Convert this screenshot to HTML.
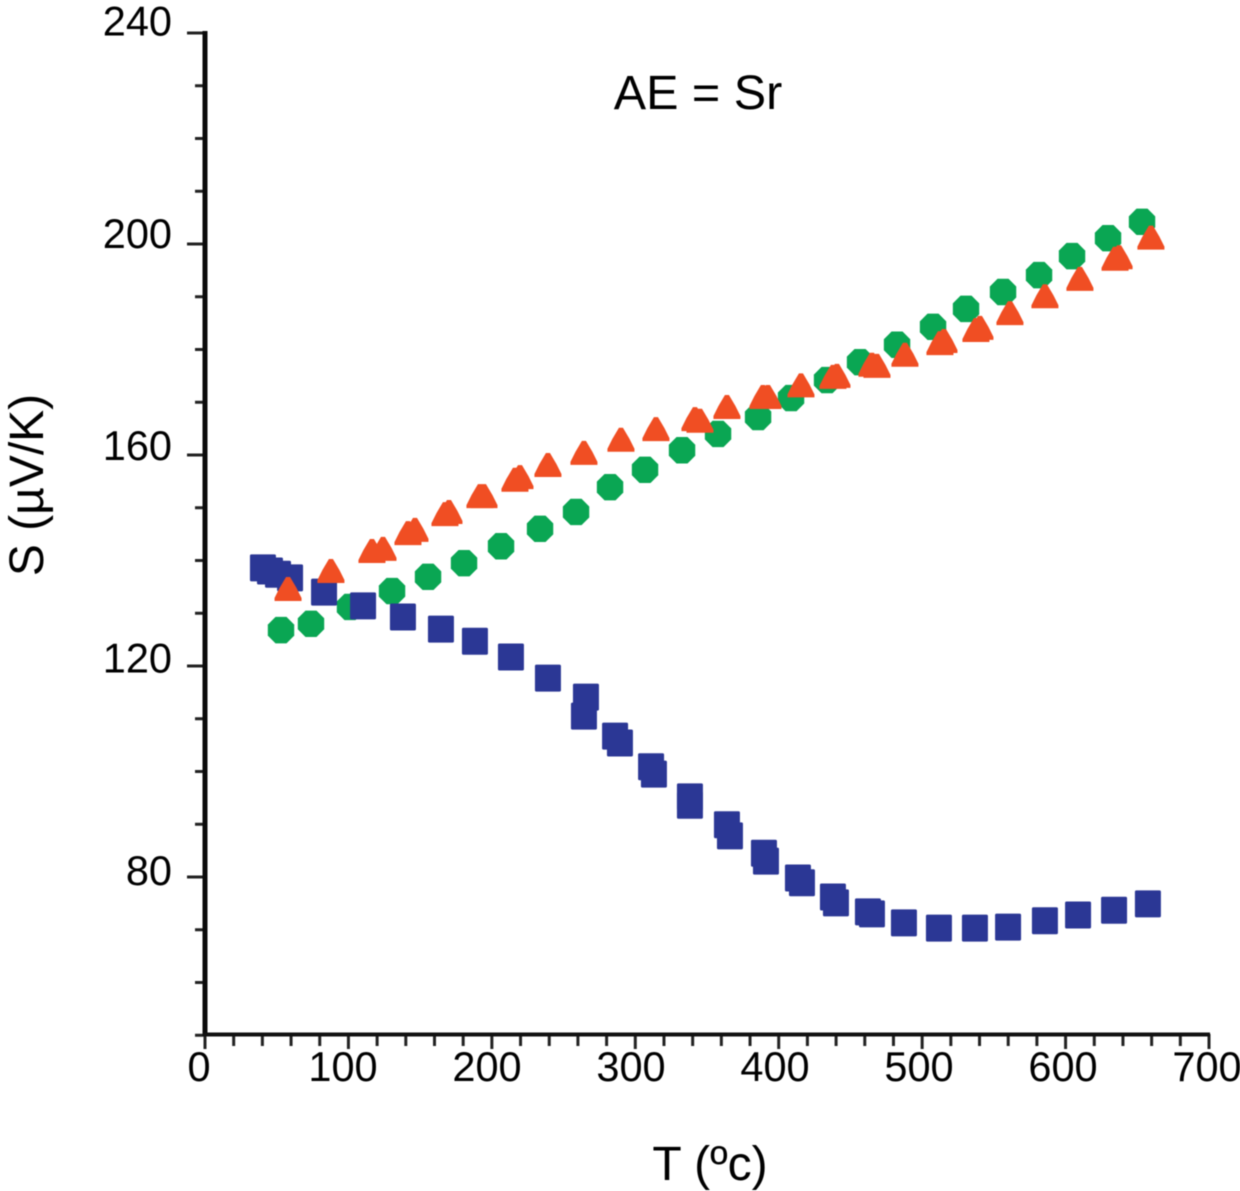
<!DOCTYPE html>
<html lang="en">
<head>
<meta charset="utf-8">
<title>AE = Sr Seebeck coefficient chart</title>
<style>
  html, body { margin: 0; padding: 0; background: #fff; }
  svg { display: block; font-family: "Liberation Sans", Arial, sans-serif; fill: #000; filter: blur(0.45px); }
</style>
</head>
<body>
<svg id="chart" xmlns="http://www.w3.org/2000/svg" width="1240" height="1191" viewBox="0 0 1240 1191">
  <g id="y-ticks"></g>
  <g id="x-ticks"></g>
  <rect x="202.5" y="31" width="5" height="1005" fill="#0a0a0a"/>
  <rect x="203" y="1032.5" width="1007" height="4" fill="#111"/>
  <g id="y-labels" font-size="41.5"></g>
  <g id="x-labels" font-size="41.5"></g>
  <g id="series-circles" fill="#0AA653"></g>
  <g id="series-squares" fill="#2B3795"></g>
  <g id="series-triangles" fill="#F04E23"></g>
  <text x="698" y="109" font-size="48.5" text-anchor="middle">AE = Sr</text>
  <text x="710" y="1180" font-size="48" text-anchor="middle">T (ºc)</text>
  <text transform="translate(43 485) rotate(-90)" font-size="48" text-anchor="middle">S (µV/K)</text>
</svg>
<script>
const squareT = [40.4,45.3,50.9,59.3,83.0,110.2,138.0,164.5,188.2,213.3,239.1,265.6,264.2,285.9,289.3,311,313,338.1,338.1,363.9,366,389.7,391.1,413.4,416.2,437.8,439.9,462.2,465,487.3,511.7,536.8,559.9,585.6,608.7,633.8,657.4];
const squareS = [138.6,138.0,137.4,136.7,134.0,131.4,129.3,127.0,124.7,121.7,117.7,114.1,110.5,106.7,105.4,100.9,99.5,95.2,93.6,89.9,87.8,84.5,83.0,79.8,78.9,76.2,75.1,73.4,73.0,71.3,70.3,70.3,70.5,71.7,72.8,73.7,74.9];
const circleT = [53,73.9,101.1,130.4,155.5,180.6,206.4,233.6,258.7,282.4,306.8,332.6,357.7,385.6,408.6,433.7,456.7,482.5,507.6,530.6,556.4,581.5,604.5,629.6,653.3];
const circleS = [126.8,128,131.2,134.2,136.9,139.5,142.7,146,149.2,153.9,157.2,160.9,164,167.2,170.8,174.2,177.6,180.9,184.3,187.7,190.9,194.1,197.7,201.1,204.2];
const triangleT = [57.9,87.8,116.4,124.1,141.5,146.4,167.3,170.1,191.7,194.5,216.1,219.6,239.1,264.2,290,314.4,341.6,345.1,363.9,389,392.5,415.5,437.8,440.6,465,468.5,488,512.4,515.2,537.5,540.3,561.2,585.6,610,634.5,637.3,659.5];
const triangleS = [134.6,138,141.8,142.2,145.2,145.8,148.8,149.2,152.2,152.2,155.3,155.8,158.1,160.4,162.9,164.9,166.8,166.5,169.1,171,171,173.2,174.8,175,177.1,176.9,179,181.2,181.6,183.7,184.1,186.9,190.1,193.4,197.2,197.5,201.2];
const xTickLabels = [0,100,200,300,400,500,600,700];
const yTickLabels = [80,120,160,200,240];
const xMinorStep = 20;
const yMinorStep = 10;
const xMax = 700;
const yMin = 50;
const yMax = 240;

const NS = 'http://www.w3.org/2000/svg';
function xScale(t) { return 205 + t * 1.4343; }
function yScale(s) { return 877 - (s - 80) * 5.275; }
function xLabelPos(t) { return 199 + t * 1.44; }
function yLabelPos(s) { return 885 - (s - 80) * 5.31; }
function make(tag, parent, attrs) {
  const el = document.createElementNS(NS, tag);
  for (const k in attrs) el.setAttribute(k, attrs[k]);
  parent.appendChild(el);
  return el;
}

const yTicks = document.getElementById('y-ticks');
for (let v = yMin; v <= yMax; v += yMinorStep) {
  const major = yTickLabels.includes(v);
  const tick = make('line', yTicks, { x1: major ? 187 : 195, x2: 205, y1: yScale(v), y2: yScale(v), stroke: '#222', 'stroke-width': 3 });
  
  
}
const xTicks = document.getElementById('x-ticks');
for (let v = 0; v <= xMax; v += xMinorStep) {
  const major = xTickLabels.includes(v);
  const tick = make('line', xTicks, { x1: xScale(v), x2: xScale(v), y1: 1034, y2: major ? 1049 : 1046, stroke: '#222', 'stroke-width': 3 });
  
  
}
const yLabels = document.getElementById('y-labels');
yTickLabels.forEach(function (v) {
  const label = make('text', yLabels, { x: 172, y: yLabelPos(v), 'text-anchor': 'end' });
  label.textContent = String(v);
  
  
});
const xLabels = document.getElementById('x-labels');
xTickLabels.forEach(function (v) {
  const label = make('text', xLabels, { x: xLabelPos(v), y: 1081, 'text-anchor': 'middle' });
  label.textContent = String(v);
  
  
});

const circleGroup = document.getElementById('series-circles');
circleT.forEach(function (t, i) {
  const cx = xScale(t), cy = yScale(circleS[i]), r = 13.2, k = 5.5;
  const pts = [[-k,-r],[k,-r],[r,-k],[r,k],[k,r],[-k,r],[-r,k],[-r,-k]].map(function (p) { return (cx + p[0]) + ',' + (cy + p[1]); }).join(' ');
  const mark = make('polygon', circleGroup, { points: pts });
  
  
});
const squareGroup = document.getElementById('series-squares');
squareT.forEach(function (t, i) {
  const mark = make('rect', squareGroup, { x: xScale(t) - 13, y: yScale(squareS[i]) - 13.5, width: 26, height: 27, rx: 1.5 });
  
  
});
const triangleGroup = document.getElementById('series-triangles');
const triangleOutline = [[-2,-12],[2,-12],[8.5,-1],[13.5,9],[13.5,12],[-13.5,12],[-13.5,9],[-8.5,-1]];
triangleT.forEach(function (t, i) {
  const cx = xScale(t), cy = yScale(triangleS[i]);
  const pts = triangleOutline.map(function (p) { return (cx + p[0]) + ',' + (cy + p[1]); }).join(' ');
  const mark = make('polygon', triangleGroup, { points: pts });
  
  
});
</script>
</body>
</html>
